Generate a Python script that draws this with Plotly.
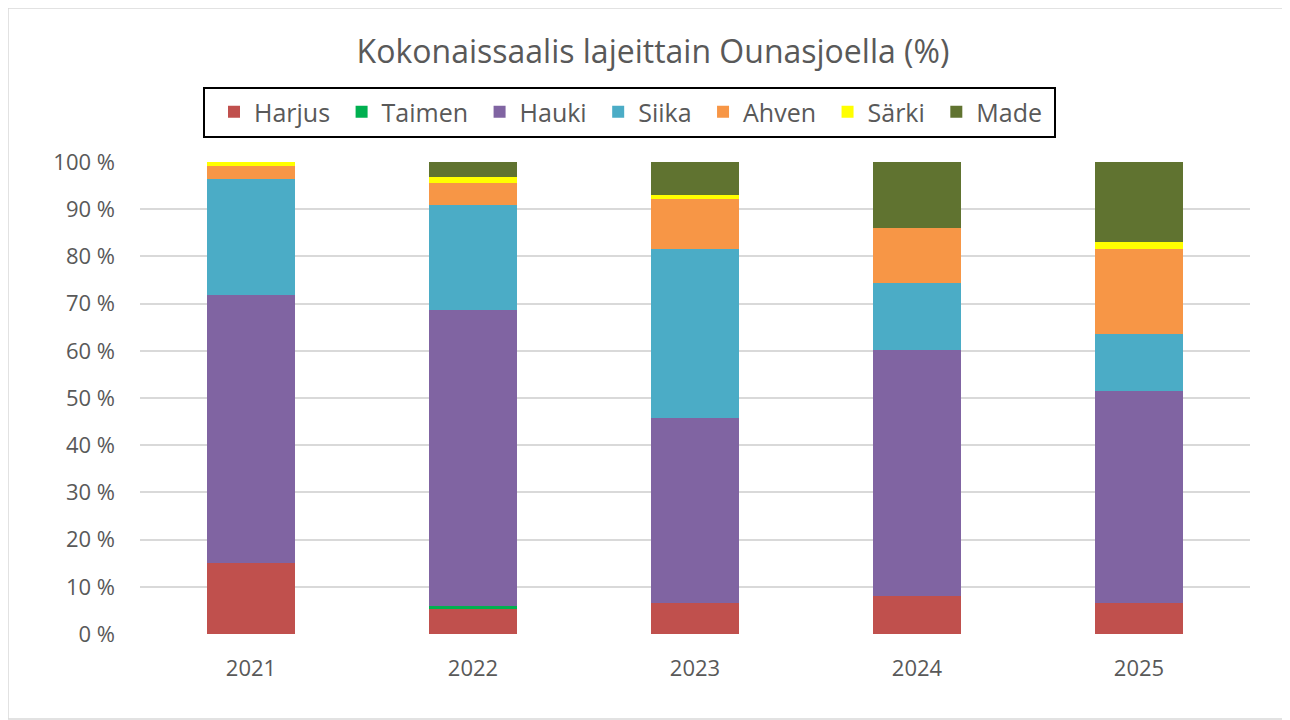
import plotly.graph_objects as go

years = ["2021", "2022", "2023", "2024", "2025"]
species = ["Harjus", "Taimen", "Hauki", "Siika", "Ahven", "Särki", "Made"]
colors = ["#C0504D", "#00B050", "#8064A2", "#4BACC6", "#F79646", "#FFFF00", "#607330"]

harjus = [15.0, 5.2, 6.6, 8.1, 6.6]
taimen = [0.0, 0.8, 0.0, 0.0, 0.0]
hauki = [56.8, 62.6, 39.2, 52.1, 44.9]
siika = [24.5, 22.3, 35.8, 14.2, 12.1]
ahven = [2.9, 4.6, 10.6, 11.6, 18.0]
sarki = [0.8, 1.3, 0.9, 0.0, 1.4]
made = [0.0, 3.2, 6.9, 14.0, 17.0]

series = [harjus, taimen, hauki, siika, ahven, sarki, made]

tick_vals = [0, 10, 20, 30, 40, 50, 60, 70, 80, 90, 100]
tick_text = [f"{v} %" for v in tick_vals]

FONT = "Open Sans"
GREY = "#595959"

fig = go.Figure()
for name, vals, col in zip(species, series, colors):
    fig.add_trace(go.Bar(name=name + "\u00a0", x=years, y=vals,
                         marker=dict(color=col, line=dict(width=0))))

# page offset of 8px (body margin)
OFF = 8
W, H = 1290, 720
# desired plot area in page pixels: x 140..1250, y 162..634
L, R, T, B = 140 - OFF, (W + OFF) - 1250, 162 - OFF, (H + OFF) - 634
pw, ph = W - L - R, H - T - B

def px(x):  # page x -> paper
    return (x - OFF - L) / pw

def py(y):  # page y -> paper
    return (H - B - (y - OFF)) / ph

fig.update_layout(
    barmode="stack",
    bargap=0.6,
    width=W, height=H,
    margin=dict(l=L, r=R, t=T, b=B),
    plot_bgcolor="white",
    paper_bgcolor="white",
    font=dict(family=FONT, color=GREY),
    title=dict(text="Kokonaissaalis lajeittain Ounasjoella (%)", x=px(653), xanchor="center",
               xref="paper", y=1 - (52 - OFF) / H, yanchor="middle",
               font=dict(size=32, color=GREY, family=FONT)),
    legend=dict(orientation="h", x=px(634), xanchor="center", y=py(112), yanchor="middle",
                borderwidth=0, bgcolor="rgba(0,0,0,0)", font=dict(size=25, color=GREY, family=FONT),
                itemwidth=30, traceorder="normal"),
    xaxis=dict(showgrid=False, showline=False, ticks="", tickfont=dict(size=22, color=GREY),
               ticklabelstandoff=19),
    yaxis=dict(range=[0, 100], tickvals=tick_vals, ticktext=tick_text, showgrid=True,
               gridcolor="#D9D9D9", gridwidth=1.5, zeroline=False, tickfont=dict(size=22, color=GREY),
               ticks="", ticklabelstandoff=24),
    shapes=[
        dict(type="rect", xref="paper", yref="paper", x0=px(8), x1=px(1284), y0=py(719), y1=py(8),
             line=dict(color="#D9D9D9", width=1.5), fillcolor="rgba(0,0,0,0)", layer="below"),
        dict(type="rect", xref="paper", yref="paper", x0=px(204), x1=px(1055), y0=py(137), y1=py(88),
             line=dict(color="black", width=2), fillcolor="rgba(0,0,0,0)", layer="below"),
    ],
)

fig.write_html("out.html")
